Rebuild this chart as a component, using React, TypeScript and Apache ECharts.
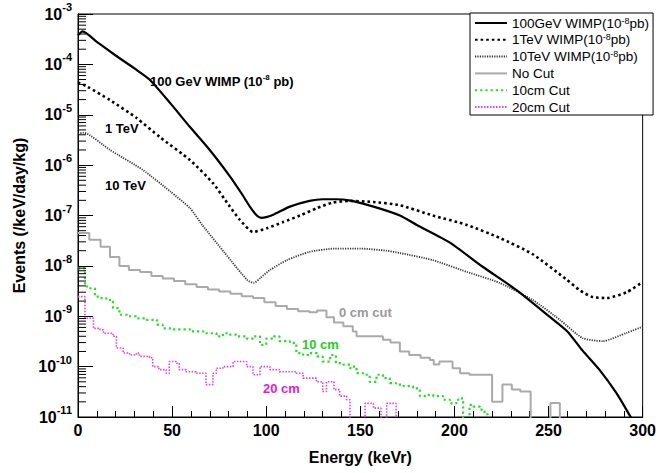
import React, { useEffect, useRef } from "react";
import * as echarts from "echarts";

// ---- data (Energy keVr, Events /keV/day/kg) ----
const wimp100GeV: [number, number][] = [
  [0, 3.8e-4], [2.5, 4.5e-4], [10, 2.8e-4], [20, 1.5e-4], [30, 8.3e-5], [38, 5.0e-5],
  [49, 1.7e-5], [59.5, 5.7e-6], [70, 2.0e-6], [80.7, 6.0e-7], [87, 2.7e-7], [91.3, 1.5e-7],
  [95, 1.0e-7], [97.5, 9.0e-8], [100, 9.3e-8], [104, 1.05e-7], [112.6, 1.5e-7], [123, 1.95e-7],
  [130, 2.1e-7], [137, 2.1e-7], [144, 2.0e-7], [157, 1.5e-7], [171, 1.0e-7], [180, 6.5e-8],
  [197.6, 2.9e-8], [215, 9.6e-9], [233, 3.3e-9], [250.7, 9.7e-10], [260, 5.0e-10],
  [268, 2.1e-10], [277, 8.7e-11], [286, 3.0e-11], [293, 1.1e-11], [296, 7e-12],
];

const wimp1TeV: [number, number][] = [
  [0, 4.4e-5], [5, 3.6e-5], [17, 1.95e-5], [31, 8.7e-6], [43.5, 3.6e-6], [59.5, 1.26e-6],
  [71.7, 4.4e-7], [80.7, 1.5e-7], [86, 8.2e-8], [93, 4.7e-8], [100.4, 5.6e-8], [109, 7.4e-8],
  [118, 1.0e-7], [127, 1.4e-7], [135, 1.8e-7], [144, 1.95e-7], [157, 1.85e-7], [171, 1.6e-7],
  [188.5, 1.0e-7], [206.6, 6.5e-8], [224, 3.6e-8], [241.6, 1.7e-8], [259.7, 5.3e-9],
  [267, 3.2e-9], [273.5, 2.4e-9], [281, 2.3e-9], [291.6, 3.0e-9], [300, 4.8e-9],
];

const wimp10TeV: [number, number][] = [
  [0, 4.2e-6], [3, 4.4e-6], [17, 2.0e-6], [34.5, 8.0e-7], [49, 3.0e-7], [59.5, 1.4e-7],
  [66, 6.5e-8], [78, 1.8e-8], [90, 5.2e-9], [93.5, 4.6e-9], [97, 5.8e-9], [102, 8.3e-9],
  [111, 1.3e-8], [123, 1.9e-8], [136.5, 2.2e-8], [150, 2.2e-8], [164, 2.0e-8], [171, 1.8e-8],
  [188.5, 1.3e-8], [206.6, 7.6e-9], [224, 4.6e-9], [241.6, 2.1e-9], [256, 8.5e-10],
  [268, 3.7e-10], [278.8, 3.2e-10], [291.6, 4.7e-10], [300, 6.2e-10],
];

// step histograms: [bin start, content]; 1e-12 = empty bin (below axis)
const noCut: [number, number][] = [
  [0, 4.5e-8], [6, 3.3e-8], [12, 2.4e-8], [17, 1.5e-8], [22, 1.0e-8], [27, 8.3e-9],
  [33, 7.6e-9], [39, 6.3e-9], [45, 5.6e-9], [51, 5.0e-9], [57, 4.3e-9], [63, 3.8e-9],
  [69, 3.4e-9], [75, 3.1e-9], [81, 2.8e-9], [87, 2.5e-9], [93, 2.3e-9], [99, 1.9e-9],
  [105, 1.6e-9], [111, 1.4e-9], [117, 1.25e-9], [123, 1.2e-9], [127, 1.3e-9], [132, 9.5e-10],
  [136, 7.5e-10], [141, 6.3e-10], [146, 5.0e-10], [148, 4.0e-10], [162, 3.4e-10],
  [166, 3.0e-10], [171, 2.0e-10], [176, 1.7e-10], [182, 1.5e-10], [187, 1.35e-10],
  [189, 1.1e-10], [192, 1.26e-10], [199, 9.3e-11], [203, 7.4e-11], [208, 6.9e-11],
  [220, 2.0e-11], [225.5, 4.4e-11], [230.5, 3.5e-11], [235, 3.2e-11], [240.5, 1e-12],
  [251, 1.9e-11], [256, 1e-12], [300, 1e-12],
];

const cut10cm: [number, number][] = [
  [0, 8.9e-9], [3.7, 3.9e-9], [6.4, 3.6e-9], [9, 2.45e-9], [11.7, 2.3e-9], [15, 2.1e-9],
  [18.6, 1.45e-9], [22, 1.07e-9], [26, 1.0e-9], [31, 9.1e-10], [36.5, 8.5e-10], [42, 6.8e-10],
  [45, 5.75e-10], [50, 5.5e-10], [59.5, 5.0e-10], [66.6, 4.6e-10], [73.6, 4.0e-10],
  [77, 4.6e-10], [80.7, 4.3e-10], [84, 4.0e-10], [89.6, 3.6e-10], [93, 4.0e-10],
  [96.7, 2.7e-10], [100, 3.6e-10], [104, 4.0e-10], [107, 3.2e-10], [112.6, 2.95e-10],
  [116, 1.86e-10], [119.6, 1.7e-10], [123, 1.86e-10], [127, 1.6e-10], [130, 1.26e-10],
  [134, 1.7e-10], [137, 1.17e-10], [141, 1.1e-10], [144.5, 9.3e-11], [146, 1.0e-10],
  [148, 7.4e-11], [151.5, 6.9e-11], [155, 5.0e-11], [158.6, 6.9e-11], [162, 5.9e-11],
  [165.7, 4.7e-11], [169, 4.4e-11], [173, 4.1e-11], [178, 3.7e-11], [181.6, 2.6e-11],
  [185, 2.75e-11], [188.7, 2.6e-11], [194, 2.2e-11], [197.6, 1.86e-11], [201, 2.2e-11],
  [203, 2.35e-11], [204.6, 1e-12], [208, 1.74e-11], [210, 1.6e-11], [213.5, 1.4e-11],
  [216, 1.2e-11], [217.5, 1e-12], [300, 1e-12],
];

const cut20cm: [number, number][] = [
  [0, 2.45e-9], [3.7, 9.1e-10], [8.2, 5.75e-10], [11.7, 5.4e-10], [13.5, 4.6e-10],
  [18.6, 4.0e-10], [20.4, 2.35e-10], [24, 1.86e-10], [27.4, 1.7e-10], [31, 1.86e-10],
  [32.6, 1.6e-10], [38, 1.5e-10], [39.7, 1.0e-10], [43, 8.7e-11], [46.8, 7.4e-11],
  [48.5, 1.26e-10], [52, 1.17e-10], [53.8, 8.7e-11], [57.4, 7.9e-11], [62.7, 7.4e-11],
  [68, 4.4e-11], [71.7, 7.4e-11], [73.5, 9.3e-11], [77, 1.0e-10], [82.4, 1.26e-10],
  [89.6, 1.0e-10], [93, 6.9e-11], [96.7, 1.0e-10], [102, 8.7e-11], [107, 7.9e-11],
  [116, 7.4e-11], [119.6, 5.9e-11], [126.7, 5.0e-11], [130, 3.2e-11], [132, 5.0e-11],
  [136, 3.5e-11], [139, 2.6e-11], [142.7, 2.2e-11], [144.5, 1e-12], [152.5, 1.86e-11],
  [157, 1.5e-11], [161, 1e-12], [164, 1.86e-11], [169, 1e-12], [300, 1e-12],
];

const seriesNames = ["100GeV WIMP", "1TeV WIMP", "10TeV WIMP", "No Cut", "10cm Cut", "20cm Cut"];

const FONT = "'Liberation Sans', Arial, Helvetica, sans-serif";

export default function App() {
  const ref = useRef<HTMLDivElement>(null);

  useEffect(() => {
    if (!ref.current) return;
    const chart = echarts.init(ref.current, undefined, { renderer: "svg" });

    // log-axis minor tick positions (2..9 x 10^n)
    const minorTickVals: [number, number][] = [];
    for (let e = -11; e < -3; e++) {
      for (let k = 2; k <= 9; k++) minorTickVals.push([0, k * Math.pow(10, e)]);
    }

    const option: any = {
      animation: false,
      backgroundColor: "#fff",
      textStyle: { fontFamily: FONT },
      grid: {
        left: 78, right: 16, top: 14, bottom: 56,
        show: true, borderColor: "#000", borderWidth: 1, backgroundColor: "transparent",
      },
      xAxis: {
        type: "value", min: 0, max: 300, interval: 50,
        name: "Energy (keVr)", nameLocation: "middle", nameGap: 32,
        nameTextStyle: { fontFamily: FONT, fontSize: 16, fontWeight: "bold", color: "#000" },
        axisLine: { show: true, lineStyle: { color: "#000", width: 1 } },
        axisTick: { show: true, inside: true, length: 11, lineStyle: { color: "#000" } },
        minorTick: { show: true, splitNumber: 5, length: 6, lineStyle: { color: "#000" } },
        splitLine: { show: false },
        axisLabel: { fontFamily: FONT, fontSize: 16, fontWeight: "bold", color: "#000", margin: 5 },
      },
      yAxis: {
        type: "log", logBase: 10, min: 1e-11, max: 1e-3, splitNumber: 8,
        name: "Events (/keV/day/kg)", nameLocation: "middle", nameGap: 48,
        nameTextStyle: { fontFamily: FONT, fontSize: 16, fontWeight: "bold", color: "#000" },
        axisLine: { show: true, lineStyle: { color: "#000", width: 1 } },
        axisTick: { show: true, inside: true, length: 15, lineStyle: { color: "#000" } },
        splitLine: { show: false },
        axisLabel: {
          margin: 6,
          formatter: (v: number) => `{b|10}{s|${Math.round(Math.log10(v))}}`,
          rich: {
            b: { fontFamily: FONT, fontSize: 16, fontWeight: "bold", color: "#000" },
            s: { fontFamily: FONT, fontSize: 11, fontWeight: "bold", color: "#000", padding: [0, 0, 14, 0] },
          },
        },
      },
      legend: {
        orient: "vertical", left: 470, top: 13,
        itemWidth: 32, itemHeight: 14, itemGap: 2.8,
        padding: [3, 4, 1, 4],
        backgroundColor: "#fff", borderColor: "#000", borderWidth: 1, borderRadius: 0,
        itemStyle: { opacity: 0, color: "transparent", borderWidth: 0 },
        data: seriesNames,
        formatter: (name: string) =>
          name.indexOf("WIMP") >= 0 ? `{t|${name}(10}{s|-8}{t|pb)}` : `{t|${name}}`,
        textStyle: {
          fontFamily: FONT, fontSize: 13.5, color: "#000",
          rich: {
            t: { fontFamily: FONT, fontSize: 13.5, lineHeight: 14, color: "#000" },
            s: { fontFamily: FONT, fontSize: 9, lineHeight: 9, color: "#000", padding: [0, 0, 5, 0] },
          },
        },
      },
      graphic: [
        {
          type: "text", x: 150, y: 81, silent: true,
          style: {
            text: "{a|100 GeV WIMP (10}{s|-8}{a| pb)}", verticalAlign: "middle",
            rich: {
              a: { fontFamily: FONT, fontSize: 13, fontWeight: "bold", fill: "#000" },
              s: { fontFamily: FONT, fontSize: 8, fontWeight: "bold", fill: "#000", padding: [0, 0, 8, 0] },
            },
          },
        },
        { type: "text", x: 105, y: 128, silent: true, style: { text: "1 TeV", font: `bold 13px ${FONT}`, fill: "#000", verticalAlign: "middle" } },
        { type: "text", x: 105, y: 185, silent: true, style: { text: "10 TeV", font: `bold 13px ${FONT}`, fill: "#000", verticalAlign: "middle" } },
        { type: "text", x: 339, y: 312, silent: true, style: { text: "0 cm cut", font: `bold 13px ${FONT}`, fill: "#999", verticalAlign: "middle" } },
        { type: "text", x: 302, y: 344, silent: true, style: { text: "10 cm", font: `bold 13px ${FONT}`, fill: "#22cc22", verticalAlign: "middle" } },
        { type: "text", x: 263, y: 388, silent: true, style: { text: "20 cm", font: `bold 13px ${FONT}`, fill: "#e020d8", verticalAlign: "middle" } },
      ],
      series: [
        {
          name: "100GeV WIMP", type: "line", data: wimp100GeV, symbol: "none", smooth: 0.2,
          lineStyle: { color: "#000", width: 2.2, type: "solid" }, itemStyle: { color: "#000" }, z: 5,
        },
        {
          name: "1TeV WIMP", type: "line", data: wimp1TeV, symbol: "none", smooth: 0.2,
          lineStyle: { color: "#000", width: 2.6, type: [2.6, 3] }, itemStyle: { color: "#000" }, z: 4,
        },
        {
          name: "10TeV WIMP", type: "line", data: wimp10TeV, symbol: "none", smooth: 0.2,
          lineStyle: { color: "#333", width: 1.8, type: [1.2, 1.2] }, itemStyle: { color: "#333" }, z: 3,
        },
        {
          name: "No Cut", type: "line", data: noCut, symbol: "none", step: "end",
          lineStyle: { color: "#aaa", width: 2 }, itemStyle: { color: "#aaa" }, z: 2,
        },
        {
          name: "10cm Cut", type: "line", data: cut10cm, symbol: "none", step: "end",
          lineStyle: { color: "#22e022", width: 2.2, type: [2.2, 3] }, itemStyle: { color: "#22e022" }, z: 2,
        },
        {
          name: "20cm Cut", type: "line", data: cut20cm, symbol: "none", step: "end",
          lineStyle: { color: "#e040e0", width: 1.6, type: [1.5, 1.5] }, itemStyle: { color: "#e040e0" }, z: 2,
        },
        {
          name: "minorTicks", type: "custom", data: minorTickVals, silent: true, z: 6,
          renderItem: (_params: any, api: any) => {
            const p = api.coord([api.value(0), api.value(1)]);
            return {
              type: "line",
              shape: { x1: p[0], y1: p[1], x2: p[0] + 8, y2: p[1] },
              style: { stroke: "#000", lineWidth: 1 },
            };
          },
        },
      ],
    };

    chart.setOption(option);
    return () => chart.dispose();
  }, []);

  return (
    <div
      ref={ref}
      style={{ position: "fixed", left: 0, top: 0, width: 659, height: 473, background: "#fff" }}
    />
  );
}
